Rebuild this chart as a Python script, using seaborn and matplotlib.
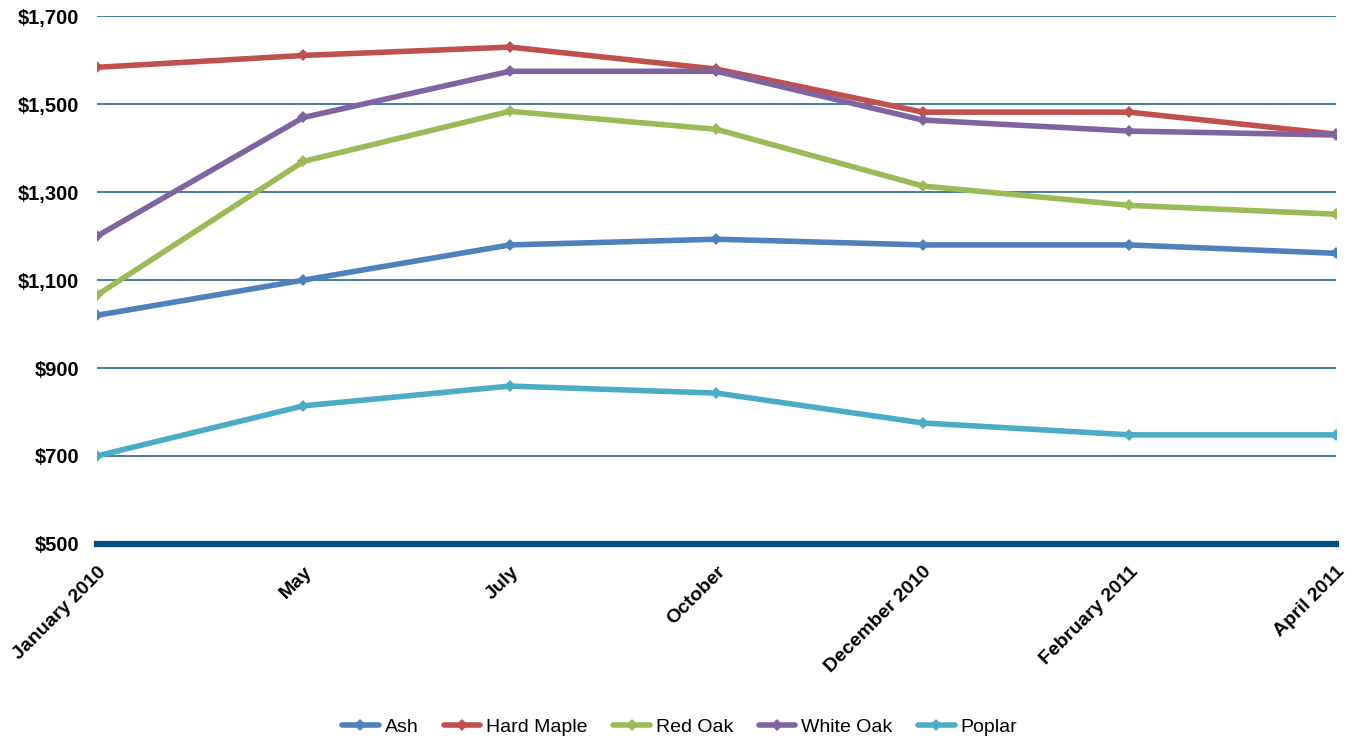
import matplotlib
matplotlib.use("Agg")
import matplotlib.pyplot as plt
import seaborn as sns
import pandas as pd
from matplotlib.ticker import FuncFormatter

months = ["January 2010", "May", "July", "October", "December 2010", "February 2011", "April 2011"]
ash = [1020, 1100, 1180, 1193, 1180, 1180, 1161]
hard_maple = [1584, 1611, 1630, 1580, 1482, 1482, 1432]
red_oak = [1066, 1370, 1484, 1443, 1314, 1270, 1250]
white_oak = [1200, 1470, 1575, 1575, 1464, 1439, 1430]
poplar = [700, 814, 859, 843, 775, 748, 748]

species = ["Ash", "Hard Maple", "Red Oak", "White Oak", "Poplar"]
series = [ash, hard_maple, red_oak, white_oak, poplar]
colors = ["#4F81BD", "#C0504D", "#9BBB59", "#8064A2", "#4BACC6"]

rows = []
for name, vals in zip(species, series):
    for i, v in enumerate(vals):
        rows.append({"idx": i, "price": v, "species": name})
df = pd.DataFrame(rows)

sns.set_style("white")
plt.rcParams["font.family"] = ["Liberation Sans", "DejaVu Sans"]
plt.rcParams["text.color"] = "black"

fig = plt.figure(figsize=(13.51, 7.42), dpi=100)
ax = fig.add_axes([0.0718, 0.267, 0.917, 0.711])

sns.lineplot(data=df, x="idx", y="price", hue="species", hue_order=species,
             palette=colors, linewidth=4.0, marker="D", markersize=6.5,
             markeredgewidth=0, ax=ax, legend=True)

ax.set_xlim(0, len(months) - 1)
ax.set_ylim(500, 1700)
ax.set_yticks([500, 700, 900, 1100, 1300, 1500, 1700])
ax.yaxis.set_major_formatter(FuncFormatter(lambda v, p: f"${v:,.0f}"))
ax.set_xticks(range(len(months)))
ax.set_xticklabels(months, rotation=45, ha="right", rotation_mode="anchor")
for lbl in ax.get_yticklabels():
    lbl.set_fontweight("bold")
    lbl.set_fontsize(14.5)
for lbl in ax.get_xticklabels():
    lbl.set_fontweight("bold")
    lbl.set_fontsize(14)
ax.tick_params(axis="y", length=0, pad=13, labelcolor="black")
ax.tick_params(axis="x", length=0, pad=14, labelcolor="black")
ax.set_xlabel("")
ax.set_ylabel("")

ax.grid(axis="y", color="#17598A", linewidth=1.1)
ax.set_axisbelow(True)
for side in ["top", "right", "left"]:
    ax.spines[side].set_visible(False)
ax.spines["bottom"].set_color("#00507F")
ax.spines["bottom"].set_linewidth(4.5)
ax.spines["bottom"].set_zorder(1)

handles, labels = ax.get_legend_handles_labels()
ax.legend_.remove()
fig.legend(handles, labels, loc="center", bbox_to_anchor=(0.503, 0.02), ncol=5,
           frameon=False, fontsize=14, handlelength=1.9, columnspacing=1.3,
           handletextpad=0.3, labelcolor="black")

fig.savefig("out.png", dpi=100)
